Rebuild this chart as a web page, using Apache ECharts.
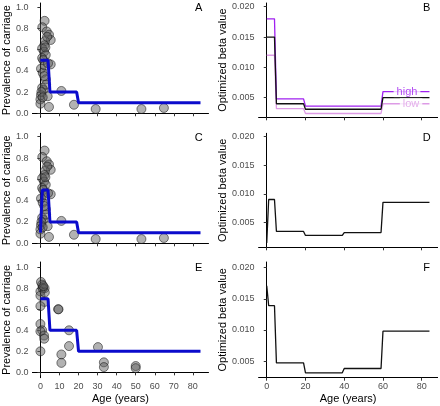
<!DOCTYPE html>
<html><head><meta charset="utf-8">
<script src="https://cdn.jsdelivr.net/npm/echarts@6/dist/echarts.min.js"></script>
<style>html,body{margin:0;padding:0;background:#fff}#c{width:440px;height:406px}</style>
</head><body><div id="c"></div>
<script>
// ---- data ----
const modelAges = [0, 1, 4, 5, 19, 20, 39, 40, 59, 60, 84];
const prevModelA = [0.5, 0.5, 0.5, 0.2, 0.2, 0.1, 0.1, 0.1, 0.1, 0.1, 0.1];
const prevModelC = [0.1, 0.5, 0.5, 0.2, 0.2, 0.1, 0.1, 0.1, 0.1, 0.1, 0.1];
const prevModelE = [0.7, 0.7, 0.7, 0.4, 0.4, 0.2, 0.2, 0.2, 0.2, 0.2, 0.2];
const betaB = [0.015, 0.015, 0.015, 0.004, 0.004, 0.0031, 0.0031, 0.0031, 0.0031, 0.005, 0.005];
const betaBHigh = [0.018, 0.018, 0.018, 0.0048, 0.0048, 0.0036, 0.0036, 0.0036, 0.0036, 0.006, 0.006];
const betaBLow = [0.012, 0.012, 0.012, 0.0032, 0.0032, 0.0024, 0.0024, 0.0024, 0.0024, 0.004, 0.004];
const betaD = [0.0014, 0.009, 0.009, 0.0034, 0.0034, 0.0027, 0.0027, 0.0032, 0.0032, 0.0085, 0.0085];
const betaF = [0.0171, 0.0139, 0.0139, 0.0047, 0.0047, 0.0031, 0.0031, 0.0038, 0.0038, 0.0098, 0.0098];

const obsAgeAC = [2.2, 1.0, 3.3, 4.5, 5.4, 2.4, 2.1, 0.9, 1.9, 2.8, 0.9, 5.4, 0.3, 1.2, 2.8, 0.9, 1.6, 0.3, 0, 3.8, 0, 4.5, 11, 17.6, 29, 53, 64.8, 3.5, 2.6, 1.5, 2.3, 3.0, 0.5, 1.2, 2.0, 4.0];
const obsPrevAC = [0.87, 0.81, 0.77, 0.74, 0.69, 0.68, 0.64, 0.61, 0.58, 0.55, 0.52, 0.46, 0.42, 0.38, 0.32, 0.24, 0.22, 0.17, 0.13, 0.16, 0.09, 0.06, 0.21, 0.08, 0.04, 0.04, 0.05, 0.72, 0.62, 0.50, 0.45, 0.27, 0.20, 0.15, 0.35, 0.47];
const obsAgeE = [0.3, 0.9, 1.2, 1.2, 2.2, 0, 0, 2.1, 0, 9.3, 9.5, 0, 0.9, 0, 1.9, 2.0, 0, 15, 15, 11, 11, 30.2, 33.3, 33.3, 50, 50, 2.3, 1.5];
const obsPrevE = [0.86, 0.835, 0.80, 0.80, 0.80, 0.77, 0.73, 0.67, 0.63, 0.60, 0.60, 0.46, 0.40, 0.39, 0.35, 0.32, 0.20, 0.40, 0.25, 0.17, 0.09, 0.24, 0.095, 0.05, 0.06, 0.04, 0.76, 0.82];

const prevTicks = [0, 0.2, 0.4, 0.6, 0.8, 1.0];
const betaTicks = [0.005, 0.010, 0.015, 0.020];
const ageTicksLeft = [0, 10, 20, 30, 40, 50, 60, 70, 80];
const ageTicksRight = [0, 20, 40, 60, 80];
const panelLetters = ['A', 'B', 'C', 'D', 'E', 'F'];

// ---- layout ----
const FONT = 'Liberation Sans, Arial, sans-serif';
const rows = [{top: 3, h: 114.3}, {top: 133.3, h: 114}, {top: 262, h: 115.7}];
const cols = [{left: 30.2, w: 178.3}, {left: 258.6, w: 179}];
const yRangesLeft = [[-0.038, 1.038], [-0.0375, 1.032], [-0.051, 1.05]];
const yRangesRight = [[0.00177, 0.02061], [0.00062, 0.0206], [0.00232, 0.02092]];

const zip = (a, b) => a.map((v, i) => [v, b[i]]);

const grids = [], xAxes = [], yAxes = [], series = [], graphics = [];
for (let r = 0; r < 3; r++) {
  for (let c = 0; c < 2; c++) {
    const gi = r * 2 + c;
    grids.push({left: cols[c].left, top: rows[r].top, width: cols[c].w, height: rows[r].h});
    const bottom = r === 2;
    xAxes.push({
      type: 'value', gridIndex: gi, min: -4.2, max: 88.2,
      axisLine: {lineStyle: {color: '#000', width: 1}},
      axisTick: {show: true, length: 3, customValues: c === 0 ? ageTicksLeft : ageTicksRight, lineStyle: {color: '#333'}},
      axisLabel: {show: bottom, customValues: c === 0 ? ageTicksLeft : ageTicksRight, color: '#4d4d4d', fontSize: 9, fontFamily: FONT, margin: 4},
      splitLine: {show: false},
      name: bottom ? 'Age (years)' : '', nameLocation: 'middle', nameGap: 16,
      nameTextStyle: {fontSize: 11, color: '#000', fontFamily: FONT}
    });
    const rng = c === 0 ? yRangesLeft[r] : yRangesRight[r];
    const ticks = c === 0 ? prevTicks : betaTicks;
    yAxes.push({
      type: 'value', gridIndex: gi, min: rng[0], max: rng[1],
      axisLine: {show: true, lineStyle: {color: '#000', width: 1}},
      axisTick: {show: true, length: 3, customValues: ticks, lineStyle: {color: '#333'}},
      axisLabel: {customValues: ticks, color: '#4d4d4d', fontSize: 9, fontFamily: FONT, margin: 4,
        formatter: v => c === 0 ? v.toFixed(1) : v.toFixed(3)},
      splitLine: {show: false},
      name: c === 0 ? 'Prevalence of carriage' : 'Optimized beta value',
      nameLocation: 'middle', nameGap: c === 0 ? 14 : 21,
      nameTextStyle: {fontSize: 11, color: '#000', fontFamily: FONT}
    });
  }
}

const scatterStyle = {color: 'rgba(95,95,95,0.6)', borderColor: 'rgba(20,20,20,0.85)', borderWidth: 0.8};
const blueLine = {color: '#0b0bcc', width: 3};
function lineSeries(gi, ys, color, width) {
  return {type: 'line', xAxisIndex: gi, yAxisIndex: gi, data: zip(modelAges, ys), symbol: 'none',
    lineStyle: {color: color, width: width}, itemStyle: {color: color}, z: 3};
}
// left panels
series.push({type: 'scatter', xAxisIndex: 0, yAxisIndex: 0, data: zip(obsAgeAC, obsPrevAC), symbolSize: 9, itemStyle: scatterStyle});
series.push(lineSeries(0, prevModelA, blueLine.color, blueLine.width));
series.push({type: 'scatter', xAxisIndex: 2, yAxisIndex: 2, data: zip(obsAgeAC, obsPrevAC), symbolSize: 9, itemStyle: scatterStyle});
series.push(lineSeries(2, prevModelC, blueLine.color, blueLine.width));
series.push({type: 'scatter', xAxisIndex: 4, yAxisIndex: 4, data: zip(obsAgeE, obsPrevE), symbolSize: 9, itemStyle: scatterStyle});
series.push(lineSeries(4, prevModelE, blueLine.color, blueLine.width));
// right panels
const PURPLE = '#a020f0', PINK = '#dd9be6';
series.push(lineSeries(1, betaBLow, PINK, 1.3));
series.push(lineSeries(1, betaBHigh, PURPLE, 1.3));
series.push(lineSeries(1, betaB, '#111', 1.3));
series.push(lineSeries(3, betaD, '#111', 1.3));
series.push(lineSeries(5, betaF, '#111', 1.3));
const highLabelAge = 72.4, lowLabelAge = 74.5;
function tagSeries(age, val, text, color) {
  return {type: 'scatter', xAxisIndex: 1, yAxisIndex: 1, data: [[age, val]], symbolSize: 1, z: 5,
    itemStyle: {color: 'rgba(0,0,0,0)'},
    label: {show: true, position: 'inside', formatter: text, color: color, fontSize: 11, fontFamily: FONT,
      backgroundColor: '#fff', padding: [0, 3]}};
}
series.push(tagSeries(highLabelAge, betaBHigh[betaBHigh.length - 1], 'high', PURPLE));
series.push(tagSeries(lowLabelAge, betaBLow[betaBLow.length - 1], 'low', PINK));

// panel letters
const letterPos = [[198.7, 8], [426.7, 8], [198.7, 137.5], [426.7, 137.5], [198.7, 268.3], [426.7, 268.3]];
panelLetters.forEach((t, i) => graphics.push({type: 'text', x: letterPos[i][0], y: letterPos[i][1],
  style: {text: t, fontSize: 11, fontFamily: FONT, fill: '#000', align: 'center', verticalAlign: 'middle'}}));

const chart = echarts.init(document.getElementById('c'), null, {renderer: 'canvas'});
chart.setOption({animation: false, backgroundColor: '#fff', grid: grids, xAxis: xAxes, yAxis: yAxes, series: series, graphic: graphics});
</script></body></html>
